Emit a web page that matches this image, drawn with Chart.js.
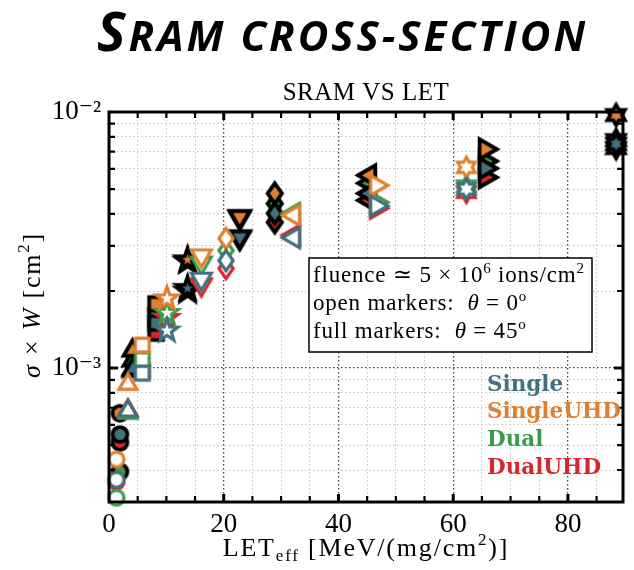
<!DOCTYPE html>
<html>
<head>
<meta charset="utf-8">
<script src="https://cdn.jsdelivr.net/npm/chart.js@4.4.1/dist/chart.umd.min.js"></script>
<style>
  body { margin: 0; background: #fff; }
  #wrap { position: relative; width: 634px; height: 570px; }
  #bigTitle {
    position: absolute; left: 97px; top: -2px;
    font: italic 700 42px "Open Sans", sans-serif;
    letter-spacing: 3px; line-height: 1.2; white-space: nowrap; color: #000;
  }
  #bigTitle .cap { font-size: 54px; }
</style>
</head>
<body>
<div id="wrap">
  <canvas id="c" width="634" height="570"></canvas>
  <div id="bigTitle"><span class="cap">S</span>RAM CROSS-SECTION</div>
</div>
<script>
// groups and colours
const groups = ["Single", "SingleUHD", "Dual", "DualUHD"];
const colors = ["#41707f", "#e07f2f", "#3a9c4a", "#d5282c"];

// one marker shape per ion, LET for theta=0 (open) and LET_eff for theta=45 (full)
const shapes = ["circle", "triUp", "square", "star", "triDown", "diamond", "triLeft", "triRight", "hexagram"];
const letOpen = [1.3, 3.3, 5.8, 10.1, 16.1, 20.4, 32.2, 46.6, 62.3];
const letFull = [1.9, 4.1, 8.2, 13.7, 22.8, 28.9, 45.4, 65.6, 88.4];

// sigma x W [cm2], open markers (theta = 0)
const openSingle    = [3.67e-4, 6.8e-4, 9.55e-4, 1.40e-3, 2.23e-3, 2.63e-3, 3.23e-3, 4.3e-3, 5.0e-3];
const openSingleUHD = [4.40e-4, 8.65e-4, 1.23e-3, 1.87e-3, 2.75e-3, 3.21e-3, 3.95e-3, 5.17e-3, 6.08e-3];
const openDual      = [3.12e-4, 6.67e-4, 1.08e-3, 1.64e-3, 2.58e-3, 2.88e-3, 4.02e-3, 4.44e-3, 5.13e-3];
const openDualUHD   = [3.60e-4, 6.85e-4, 9.73e-4, 1.57e-3, 2.12e-3, 2.45e-3, 3.30e-3, 4.21e-3, 4.86e-3];

// full markers (theta = 45)
const fullSingle    = [5.51e-4, 9.9e-4, 1.50e-3, 2.05e-3, 3.25e-3, 4.02e-3, 4.81e-3, 6.03e-3, 7.5e-3];
const fullSingleUHD = [6.67e-4, 1.17e-3, 1.78e-3, 2.65e-3, 3.90e-3, 4.81e-3, 5.66e-3, 7.16e-3, 9.73e-3];
const fullDual      = [3.94e-4, 1.07e-3, 1.60e-3, 2.61e-3, 3.87e-3, 4.39e-3, 5.27e-3, 6.43e-3, 7.77e-3];
const fullDualUHD   = [5.13e-4, 9.73e-4, 1.37e-3, 2.00e-3, 3.23e-3, 3.71e-3, 4.52e-3, 5.56e-3, 7.23e-3];

const openValues = [openSingle, openSingleUHD, openDual, openDualUHD];
const fullValues = [fullSingle, fullSingleUHD, fullDual, fullDualUHD];

// ticks
const xTicks = [0, 5, 10, 15, 20, 25, 30, 35, 40, 45, 50, 55, 60, 65, 70, 75, 80, 85];
const xLabels = [0, 20, 40, 60, 80];
const yTicks = [3e-4, 4e-4, 5e-4, 6e-4, 7e-4, 8e-4, 9e-4, 1e-3, 2e-3, 3e-3, 4e-3, 5e-3, 6e-3, 7e-3, 8e-3, 9e-3, 1e-2];

const SERIF = '"Liberation Serif", "DejaVu Serif", serif';

// marker pictures
function shapePath(c, shape, r) {
  c.beginPath();
  const poly = (n, R, start) => {
    for (let i = 0; i < n; i++) {
      const a = start + i * 2 * Math.PI / n;
      const px = R * Math.cos(a), py = R * Math.sin(a);
      i ? c.lineTo(px, py) : c.moveTo(px, py);
    }
    c.closePath();
  };
  if (shape === "circle") c.arc(0, 0, r * 0.65, 0, Math.PI * 2);
  else if (shape === "square") c.rect(-r * 0.6, -r * 0.6, r * 1.2, r * 1.2);
  else if (shape === "triUp") poly(3, r * 0.9, -Math.PI / 2);
  else if (shape === "triDown") poly(3, r, Math.PI / 2);
  else if (shape === "triLeft") poly(3, r, Math.PI);
  else if (shape === "triRight") poly(3, r, 0);
  else if (shape === "diamond") {
    c.moveTo(0, -r * 0.88); c.lineTo(r * 0.62, 0); c.lineTo(0, r * 0.88); c.lineTo(-r * 0.62, 0); c.closePath();
  } else if (shape === "star") {
    for (let i = 0; i < 10; i++) {
      const a = -Math.PI / 2 + i * Math.PI / 5;
      const R = i % 2 ? r * 0.4 : r;
      i ? c.lineTo(R * Math.cos(a), R * Math.sin(a)) : c.moveTo(R * Math.cos(a), R * Math.sin(a));
    }
    c.closePath();
  } else if (shape === "hexagram") {
    for (let i = 0; i < 12; i++) {
      const a = -Math.PI / 2 + i * Math.PI / 6;
      const R = i % 2 ? r * 0.88 / Math.sqrt(3) : r * 0.88;
      i ? c.lineTo(R * Math.cos(a), R * Math.sin(a)) : c.moveTo(R * Math.cos(a), R * Math.sin(a));
    }
    c.closePath();
  }
}

function makeMarker(shape, color, full) {
  const r = 11.5, lw = full ? 3.8 : 3.2;
  const size = Math.ceil(2 * (r + lw)) + 4;
  const cv = document.createElement("canvas");
  cv.width = size; cv.height = size;
  const c = cv.getContext("2d");
  c.translate(size / 2, size / 2);
  c.lineJoin = "miter";
  shapePath(c, shape, r);
  c.fillStyle = full ? color : "#fff";
  c.fill();
  c.lineWidth = lw;
  c.strokeStyle = full ? "#000" : color;
  c.stroke();
  return cv;
}

const datasets = [];
groups.forEach((g, gi) => {
  datasets.push({
    label: g + " 0deg",
    data: letOpen.map((x, i) => ({ x: x, y: openValues[gi][i] })),
    pointStyle: shapes.map(s => makeMarker(s, colors[gi], false)),
    pointRadius: 10, clip: false
  });
});
groups.forEach((g, gi) => {
  datasets.push({
    label: g + " 45deg",
    data: letFull.map((x, i) => ({ x: x, y: fullValues[gi][i] })),
    pointStyle: shapes.map(s => makeMarker(s, colors[gi], true)),
    pointRadius: 10, clip: false
  });
});

function drawRich(c, parts, x, y, align) {
  let w = 0;
  parts.forEach(p => { c.font = p[1]; w += c.measureText(p[0]).width; });
  let cx = align === "center" ? x - w / 2 : x;
  parts.forEach(p => {
    c.font = p[1];
    c.fillText(p[0], cx, y + (p[2] || 0));
    cx += c.measureText(p[0]).width;
  });
}

const decorations = {
  id: "decorations",
  afterDraw(chart) {
    const c = chart.ctx;
    const a = chart.chartArea;
    const xs = chart.scales.x, ys = chart.scales.y;
    c.save();
    c.fillStyle = "#000";
    c.strokeStyle = "#000";
    c.textAlign = "left";
    c.textBaseline = "alphabetic";

    // inner ticks
    c.lineCap = "butt";
    xTicks.forEach(v => {
      if (v === 0) return;
      const px = xs.getPixelForValue(v);
      const major = v % 20 === 0;
      const len = major ? 8 : 6;
      c.lineWidth = major ? 3 : 2.2;
      c.beginPath();
      c.moveTo(px, a.bottom); c.lineTo(px, a.bottom - len);
      c.moveTo(px, a.top); c.lineTo(px, a.top + len);
      c.stroke();
    });
    yTicks.forEach(v => {
      const py = ys.getPixelForValue(v);
      if (py < a.top + 1 || py > a.bottom - 1) return;
      const major = Math.abs(v - 1e-3) < 1e-9;
      const len = major ? 9 : 6;
      c.lineWidth = major ? 3 : 2.2;
      c.beginPath();
      c.moveTo(a.left, py); c.lineTo(a.left + len, py);
      c.moveTo(a.right, py); c.lineTo(a.right - len, py);
      c.stroke();
    });

    // frame
    c.lineWidth = 3;
    c.strokeRect(a.left, a.top, a.right - a.left, a.bottom - a.top);

    // subtitle
    c.textAlign = "center";
    c.font = "25px " + SERIF;
    c.letterSpacing = "0.5px";
    c.fillText("SRAM VS LET", (a.left + a.right) / 2, 100);
    c.textAlign = "left";

    // axis titles
    c.letterSpacing = "1.8px";
    const n = "26px " + SERIF, it = "italic 26px " + SERIF, sm = "17px " + SERIF;
    drawRich(c, [["LET", n], ["eff", sm, 5], [" [MeV/(mg/cm", n], ["2", sm, -11], [")]", n]], (a.left + a.right) / 2, 556, "center");
    c.save();
    c.translate(40, 305);
    c.rotate(-Math.PI / 2);
    drawRich(c, [["\u03c3", it], [" \u00d7 ", n], ["W", it], [" [cm", n], ["2", sm, -11], ["]", n]], 0, 0, "center");
    c.restore();

    // note box
    c.letterSpacing = "0.8px";
    c.lineWidth = 1.5;
    c.fillStyle = "#fff";
    c.fillRect(309, 258, 283, 94);
    c.strokeRect(309, 258, 283, 94);
    c.fillStyle = "#000";
    const bn = "23px " + SERIF, bi = "italic 23px " + SERIF, bs = "15px " + SERIF;
    drawRich(c, [["fluence \u2243 5 \u00d7 10", bn], ["6", bs, -9], [" ions/cm", bn], ["2", bs, -9]], 313, 282);
    drawRich(c, [["open markers:  ", bn], ["\u03b8", bi], [" = 0", bn], ["o", bs, -9]], 313, 310);
    drawRich(c, [["full markers:  ", bn], ["\u03b8", bi], [" = 45", bn], ["o", bs, -9]], 313, 338);

    // group names
    c.letterSpacing = "0px";
    c.font = 'bold 21.5px "DejaVu Serif", serif';
    const ly = [391, 418, 446, 474];
    groups.forEach((g, gi) => {
      c.fillStyle = colors[gi];
      c.fillText(g, 487, ly[gi]);
    });
    c.restore();
  }
};

new Chart(document.getElementById("c"), {
  type: "scatter",
  data: { datasets: datasets },
  options: {
    responsive: false,
    animation: false,
    events: [],
    layout: { padding: { top: 112, right: 2, left: 0, bottom: 0 } },
    plugins: { legend: { display: false }, tooltip: { enabled: false } },
    scales: {
      x: {
        type: "linear", min: 0, max: 89.6,
        afterBuildTicks: s => { s.ticks = xTicks.map(v => ({ value: v })); },
        afterFit: s => { s.height = 68; },
        ticks: {
          autoSkip: false, maxRotation: 0, padding: 7, color: "#000",
          font: { family: SERIF, size: 27 },
          callback: v => xLabels.includes(v) ? String(v) : ""
        },
        grid: {
          drawTicks: false,
          color: ctx => (ctx.tick && ctx.tick.value % 20 === 0) ? "#444" : "#c4c4c4",
          lineWidth: ctx => (ctx.tick && ctx.tick.value % 20 === 0) ? 1.3 : 1
        },
        border: { display: false, dash: [1.5, 2.5] }
      },
      y: {
        type: "logarithmic", min: 3e-4, max: 1e-2,
        afterBuildTicks: s => { s.ticks = yTicks.map(v => ({ value: v })); },
        afterFit: s => { s.width = 109; },
        ticks: {
          autoSkip: false, padding: 8, color: "#000",
          font: { family: SERIF, size: 27 },
          callback: v => {
            if (Math.abs(v - 1e-2) < 1e-9) return "10\u207b\u00b2";
            if (Math.abs(v - 1e-3) < 1e-9) return "10\u207b\u00b3";
            return "";
          }
        },
        grid: {
          drawTicks: false,
          color: ctx => (ctx.tick && Math.abs(ctx.tick.value - 1e-3) < 1e-9) ? "#444" : "#c4c4c4",
          lineWidth: ctx => (ctx.tick && Math.abs(ctx.tick.value - 1e-3) < 1e-9) ? 1.3 : 1
        },
        border: { display: false, dash: [1.5, 2.5] }
      }
    }
  },
  plugins: [decorations]
});
</script>
</body>
</html>
